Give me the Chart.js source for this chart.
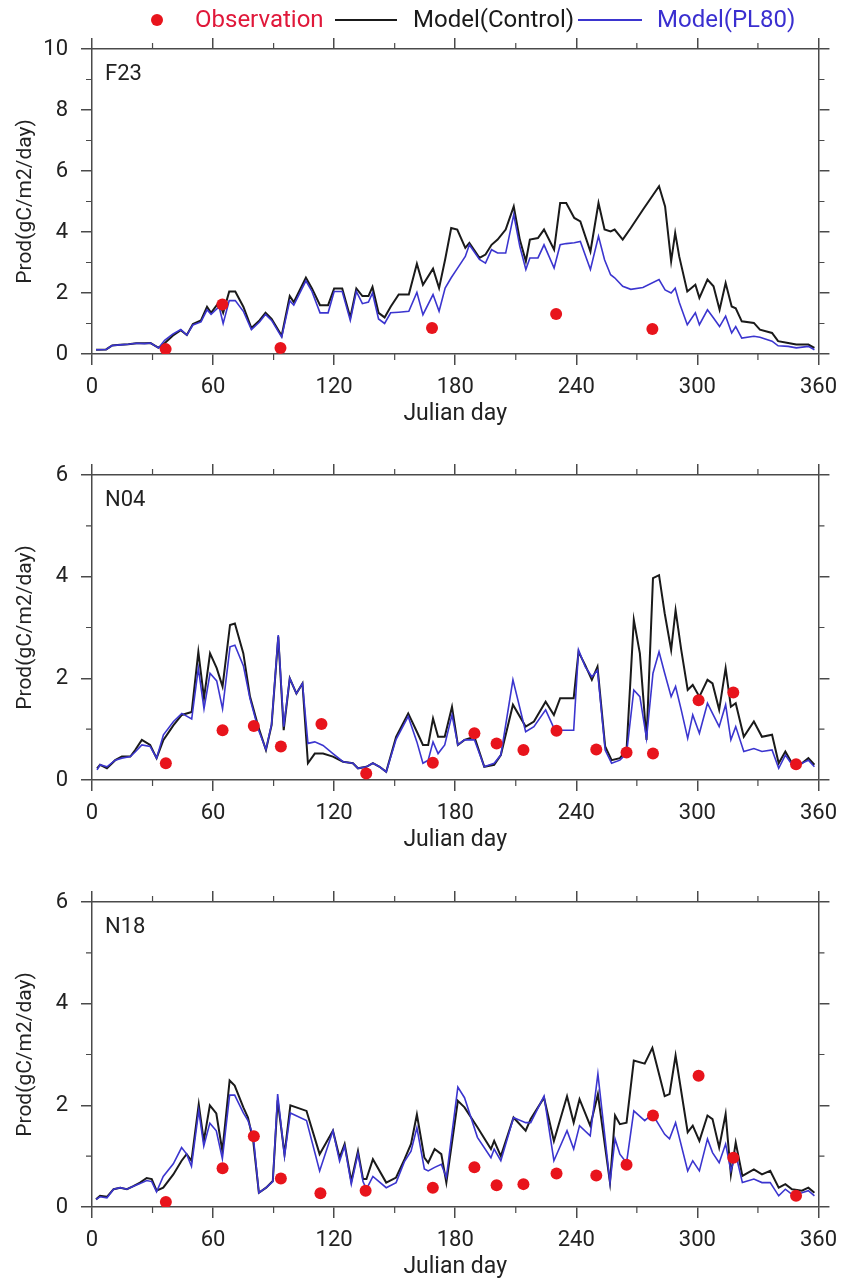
<!DOCTYPE html>
<html>
<head>
<meta charset="utf-8">
<script src="https://cdn.jsdelivr.net/npm/chart.js@4.4.1/dist/chart.umd.min.js"></script>
<style>
  body { margin: 0; background: #fff; }
  #page { position: relative; width: 846px; height: 1281px; overflow: hidden; font-family: Roboto, sans-serif; }
  canvas { position: absolute; left: 0; }
  .lg { position: absolute; font-size: 24px; line-height: 24px; white-space: nowrap; }
  .lgline { position: absolute; height: 2px; }
</style>
</head>
<body>
<div id="page">
  <canvas id="chartF23" width="846" height="428" style="top:0px"></canvas>
  <canvas id="chartN04" width="846" height="428" style="top:426px"></canvas>
  <canvas id="chartN18" width="846" height="428" style="top:853px"></canvas>

  <div id="legend">
    <div style="position:absolute;left:151px;top:14px;width:12px;height:12px;border-radius:50%;background:#e8141c"></div>
    <span class="lg" style="left:195px;top:7px;color:#e0183a">Observation</span>
    <div class="lgline" style="left:335px;top:19px;width:62px;background:#1a1a1a"></div>
    <span class="lg" style="left:413px;top:7px;color:#1a1a1a">Model(Control)</span>
    <div class="lgline" style="left:578px;top:19px;width:64px;background:#3b35cf"></div>
    <span class="lg" style="left:657px;top:7px;color:#3a2fd0">Model(PL80)</span>
  </div>
</div>

<script>
// ---- F23 ----
const f23Days = [2, 7, 10, 14, 18, 22, 26, 29, 33, 36,
    40, 44, 47, 50, 54, 57, 59, 63, 65, 68,
    71, 75, 79, 83, 86, 89, 94, 98, 100, 106,
    109, 113, 117, 120, 124, 128, 131, 134, 137, 139,
    142, 145, 148, 152, 157, 161, 164, 169, 172, 175,
    178, 181, 185, 187, 192, 195, 198, 201, 205, 209,
    212, 215, 217, 221, 224, 229, 232, 235, 239, 242,
    247, 251, 254, 257, 259, 263, 267, 273, 281, 284,
    287, 289, 291, 295, 299, 301, 305, 308, 311, 314,
    317, 319, 322, 328, 331, 337, 340, 345, 349, 355,
    358];
const f23Control = [0.14, 0.15, 0.28, 0.30, 0.32, 0.35, 0.35, 0.36, 0.20, 0.35,
    0.60, 0.78, 0.62, 0.98, 1.10, 1.55, 1.35, 1.70, 1.35, 2.05,
    2.05, 1.55, 0.85, 1.10, 1.35, 1.15, 0.60, 1.90, 1.70, 2.50,
    2.15, 1.60, 1.60, 2.15, 2.15, 1.20, 2.15, 1.90, 1.90, 2.20,
    1.35, 1.20, 1.55, 1.95, 1.95, 2.96, 2.27, 2.80, 2.16, 3.10,
    4.13, 4.08, 3.48, 3.64, 3.15, 3.26, 3.58, 3.75, 4.08, 4.84,
    3.75, 3.04, 3.75, 3.80, 4.08, 3.42, 4.95, 4.95, 4.46, 4.35,
    3.36, 4.95, 4.08, 4.02, 4.08, 3.75, 4.13, 4.73, 5.50, 4.84,
    3.04, 3.97, 3.20, 2.05, 2.27, 1.84, 2.44, 2.22, 1.45, 2.33,
    1.56, 1.50, 1.07, 1.02, 0.80, 0.69, 0.42, 0.36, 0.31, 0.31,
    0.20];
const f23PL80 = [0.14, 0.15, 0.28, 0.30, 0.32, 0.35, 0.34, 0.36, 0.20, 0.45,
    0.65, 0.80, 0.62, 0.95, 1.05, 1.45, 1.30, 1.55, 1.00, 1.75,
    1.75, 1.40, 0.80, 1.05, 1.30, 1.10, 0.55, 1.75, 1.60, 2.40,
    2.05, 1.35, 1.35, 2.05, 2.05, 1.10, 2.05, 1.65, 1.70, 2.00,
    1.15, 1.00, 1.35, 1.37, 1.40, 2.02, 1.29, 1.95, 1.40, 2.16,
    2.50, 2.80, 3.20, 3.58, 3.10, 2.98, 3.42, 3.31, 3.31, 4.57,
    3.53, 2.77, 3.15, 3.15, 3.58, 2.82, 3.58, 3.62, 3.65, 3.69,
    2.77, 3.86, 3.09, 2.60, 2.50, 2.22, 2.12, 2.18, 2.44, 2.10,
    2.00, 2.16, 1.70, 0.96, 1.35, 0.96, 1.45, 1.18, 0.90, 1.24,
    0.69, 0.90, 0.52, 0.58, 0.55, 0.42, 0.27, 0.25, 0.20, 0.25,
    0.14];
const f23ObsDays = [36.5, 64.6, 93.4, 168.5, 230, 277.7];
const f23Obs = [0.16, 1.62, 0.20, 0.85, 1.31, 0.82];

// ---- N04 ----
const n04Days = [2.5, 4, 7.4, 11.5, 14.8, 19, 21.4, 24.7, 28.8, 32,
    35.4, 40.4, 44.5, 49.4, 52.7, 55.5, 58.5, 61.8, 64.7, 68.4,
    70.8, 75, 78.3, 82.4, 86.2, 89, 92.3, 95, 98, 101.3,
    104.3, 107, 110.4, 114.5, 119.4, 124.4, 129.3, 131.8, 136, 139.2,
    142.5, 145.8, 150.7, 156.7, 161, 164, 166.6, 169, 171.5, 174.8,
    178.4, 181.3, 184.6, 189.5, 194.4, 199.3, 202.6, 208.6, 214.9, 219,
    224.8, 228.9, 232, 238.7, 241.1, 244.4, 247.7, 250.5, 254.3, 257.5,
    261.6, 264.9, 268.5, 271.5, 274.8, 278, 281, 283.8, 287, 289.2,
    292, 295.2, 297.7, 301, 305, 307.5, 310.8, 314, 316.6, 319,
    323, 328, 332, 337, 340.3, 343.6, 346.9, 351.8, 355, 358];
const n04Control = [0.23, 0.30, 0.23, 0.39, 0.46, 0.46, 0.59, 0.79, 0.69, 0.43,
    0.79, 1.08, 1.28, 1.34, 2.52, 1.61, 2.49, 2.20, 1.84, 3.05,
    3.08, 2.49, 1.64, 1.05, 0.59, 1.08, 2.82, 0.98, 2.00, 1.70,
    1.90, 0.33, 0.52, 0.52, 0.46, 0.36, 0.33, 0.23, 0.26, 0.33,
    0.26, 0.16, 0.85, 1.31, 0.95, 0.69, 0.69, 1.21, 0.85, 0.85,
    1.44, 0.69, 0.79, 0.85, 0.26, 0.30, 0.49, 1.48, 1.05, 1.15,
    1.54, 1.28, 1.61, 1.61, 2.52, 2.26, 1.97, 2.23, 0.66, 0.39,
    0.43, 0.59, 3.15, 2.49, 0.79, 3.97, 4.03, 3.28, 2.56, 3.34,
    2.56, 1.77, 1.87, 1.64, 1.97, 1.90, 1.38, 2.20, 1.44, 1.51,
    0.85, 1.15, 0.85, 0.89, 0.33, 0.56, 0.33, 0.33, 0.43, 0.30];
const n04PL80 = [0.20, 0.30, 0.26, 0.39, 0.43, 0.46, 0.55, 0.69, 0.66, 0.43,
    0.89, 1.15, 1.31, 1.20, 2.20, 1.40, 2.10, 1.95, 1.40, 2.62,
    2.65, 2.25, 1.60, 1.00, 0.60, 1.10, 2.85, 1.05, 2.00, 1.70,
    1.90, 0.72, 0.75, 0.68, 0.52, 0.36, 0.33, 0.23, 0.26, 0.33,
    0.26, 0.16, 0.80, 1.25, 0.75, 0.33, 0.39, 0.75, 0.52, 0.69,
    1.28, 0.69, 0.79, 0.79, 0.26, 0.33, 0.49, 1.97, 0.95, 1.05,
    1.38, 1.02, 0.98, 0.98, 2.56, 2.23, 2.03, 2.16, 0.59, 0.33,
    0.39, 0.52, 1.77, 1.64, 0.82, 2.10, 2.52, 2.10, 1.64, 1.84,
    1.38, 0.82, 1.28, 0.92, 1.51, 1.31, 1.05, 1.48, 0.79, 1.05,
    0.56, 0.62, 0.56, 0.59, 0.23, 0.49, 0.30, 0.33, 0.39, 0.26];
const n04ObsDays = [36.6, 64.7, 80.2, 93.6, 113.7, 135.9, 168.9, 189.5, 200.5, 213.8,
    230.2, 249.9, 264.9, 278, 300.6, 317.8, 348.9];
const n04Obs = [0.33, 0.98, 1.06, 0.66, 1.10, 0.13, 0.34, 0.92, 0.72, 0.59,
    0.97, 0.60, 0.54, 0.52, 1.57, 1.72, 0.31];

// ---- N18 ----
const n18Days = [2, 4, 7.4, 10.7, 14, 17.3, 20.5, 23.8, 27.1, 29.6,
    32, 35.3, 40.3, 44.4, 46.9, 49.3, 52.9, 55.4, 58.4, 61.6,
    64.6, 68.2, 70.7, 75, 77.3, 79.9, 82.7, 86.3, 89.6, 92,
    95.4, 98.3, 106.3, 112.8, 119.4, 122.7, 125.2, 128.5, 131.8, 134.3,
    136, 139.2, 145.8, 150.7, 154.9, 158.1, 161, 164.7, 166.6, 169.8,
    173.1, 175.6, 181.3, 184.6, 191, 197.7, 199.3, 202.6, 208.9, 214.9,
    217.4, 224, 228.9, 235.4, 238.7, 241.6, 246.9, 250.7, 256.7, 259.2,
    261.6, 264.9, 268.5, 273.9, 277.7, 283.8, 286.2, 289.2, 295.2, 297.7,
    301, 305, 307.5, 310.8, 314, 316.6, 319, 322.3, 328, 332,
    336.1, 340.3, 343.6, 346.9, 351.8, 355, 358];
const n18Control = [0.15, 0.22, 0.20, 0.35, 0.38, 0.35, 0.41, 0.48, 0.57, 0.55,
    0.32, 0.38, 0.64, 0.91, 1.04, 0.91, 2.02, 1.30, 2.00, 1.84,
    1.10, 2.49, 2.39, 1.96, 1.76, 1.30, 0.28, 0.38, 0.51, 2.10,
    1.04, 2.00, 1.89, 1.04, 1.50, 0.97, 1.24, 0.51, 1.10, 0.55,
    0.55, 0.94, 0.48, 0.58, 0.94, 1.24, 1.82, 0.97, 0.87, 1.14,
    1.04, 0.48, 2.09, 1.96, 1.57, 1.14, 1.30, 1.00, 1.76, 1.50,
    1.73, 2.15, 1.30, 2.18, 1.66, 2.12, 1.60, 2.22, 0.48, 1.80,
    1.63, 1.66, 2.88, 2.82, 3.13, 2.18, 2.22, 2.98, 1.47, 1.60,
    1.30, 1.80, 1.73, 1.17, 1.83, 0.64, 1.27, 0.61, 0.74, 0.64,
    0.71, 0.38, 0.45, 0.35, 0.32, 0.38, 0.28];
const n18PL80 = [0.15, 0.20, 0.18, 0.35, 0.38, 0.35, 0.41, 0.46, 0.52, 0.50,
    0.30, 0.60, 0.85, 1.17, 1.04, 0.80, 1.90, 1.20, 1.65, 1.50,
    0.95, 2.20, 2.20, 1.85, 1.70, 1.40, 0.28, 0.38, 0.50, 2.22,
    1.00, 1.85, 1.70, 0.71, 1.50, 0.90, 1.20, 0.45, 1.05, 0.50,
    0.35, 0.60, 0.38, 0.48, 0.90, 1.10, 1.56, 0.75, 0.71, 0.78,
    0.84, 0.58, 2.36, 2.15, 1.37, 0.97, 1.14, 0.91, 1.76, 1.66,
    1.66, 2.18, 0.91, 1.50, 1.14, 1.60, 1.40, 2.62, 0.48, 1.34,
    1.04, 0.87, 1.89, 1.70, 1.83, 1.43, 1.34, 1.66, 0.71, 0.91,
    0.71, 1.34, 1.07, 0.87, 1.24, 0.71, 1.04, 0.48, 0.55, 0.48,
    0.48, 0.22, 0.35, 0.25, 0.28, 0.32, 0.22];
const n18ObsDays = [36.6, 64.7, 80.2, 93.6, 113.2, 135.6, 168.9, 189.5, 200.5, 213.8,
    230.2, 249.9, 264.9, 278, 300.6, 317.8, 348.9];
const n18Obs = [0.10, 0.76, 1.39, 0.56, 0.27, 0.32, 0.38, 0.78, 0.43, 0.45,
    0.66, 0.62, 0.83, 1.80, 2.58, 0.97, 0.22];

const xTicks = [0, 60, 120, 180, 240, 300, 360];

const axisColor = '#4a4a4a';
const textColor = '#222';
const obsColor = '#e8141c';
const controlColor = '#1a1a1a';
const pl80Color = '#3b35cf';

// short minor ticks (every 30 days, every 1 unit) on all four sides
const minorTicks = {
    id: 'minorTicks',
    afterDraw(chart) {
        let ctx = chart.ctx;
        let area = chart.chartArea;
        let xs = chart.scales.x;
        let ys = chart.scales.y;
        ctx.save();
        ctx.strokeStyle = axisColor;
        ctx.lineWidth = 1.2;
        ctx.beginPath();
        for (let d = 30; d < 360; d += 60) {
            let px = xs.getPixelForValue(d);
            ctx.moveTo(px, area.bottom);
            ctx.lineTo(px, area.bottom + 6);
            ctx.moveTo(px, area.top);
            ctx.lineTo(px, area.top - 6);
        }
        for (let v = 1; v < ys.max; v += 2) {
            let py = ys.getPixelForValue(v);
            ctx.moveTo(area.left, py);
            ctx.lineTo(area.left - 6, py);
            ctx.moveTo(area.right, py);
            ctx.lineTo(area.right + 6, py);
        }
        ctx.stroke();
        ctx.restore();
    }
};

const panelLabel = {
    id: 'panelLabel',
    afterDraw(chart, args, opts) {
        let ctx = chart.ctx;
        let area = chart.chartArea;
        ctx.save();
        ctx.font = '22px Roboto';
        ctx.fillStyle = textColor;
        ctx.textBaseline = 'middle';
        ctx.textAlign = 'left';
        ctx.fillText(opts.text, area.left + 13, area.top + 25);
        ctx.restore();
    }
};

function toPoints(xs, ys) {
    return xs.map((x, i) => ({x: x, y: ys[i]}));
}

function frameAxis(position, yMax, isX, extra) {
    let axis = {
        type: 'linear',
        position: position,
        min: 0,
        max: isX ? 360 : yMax,
        border: {display: true, color: axisColor, width: 1.5},
        grid: {drawOnChartArea: false, drawTicks: true, tickLength: 11, color: axisColor, lineWidth: 1.5},
        ticks: {display: false, stepSize: isX ? 60 : 2}
    };
    return Object.assign(axis, extra);
}

function makePanel(canvasId, name, yMax, days, control, pl80, obsDays, obs) {
    let ctx = document.getElementById(canvasId).getContext('2d');
    return new Chart(ctx, {
        type: 'line',
        data: {
            datasets: [
                {
                    label: 'Observation',
                    data: toPoints(obsDays, obs),
                    showLine: false,
                    pointRadius: 6,
                    pointBackgroundColor: obsColor,
                    pointBorderWidth: 0,
                    xAxisID: 'x',
                    yAxisID: 'y'
                },
                {
                    label: 'Model(PL80)',
                    data: toPoints(days, pl80),
                    borderColor: pl80Color,
                    borderWidth: 1.6,
                    pointRadius: 0,
                    tension: 0,
                    xAxisID: 'x',
                    yAxisID: 'y'
                },
                {
                    label: 'Model(Control)',
                    data: toPoints(days, control),
                    borderColor: controlColor,
                    borderWidth: 2,
                    pointRadius: 0,
                    tension: 0,
                    xAxisID: 'x',
                    yAxisID: 'y'
                }
            ]
        },
        options: {
            responsive: false,
            animation: false,
            devicePixelRatio: 1,
            layout: {padding: 0},
            plugins: {
                legend: {display: false},
                tooltip: {enabled: false},
                panelLabel: {text: name}
            },
            scales: {
                x: frameAxis('bottom', yMax, true, {
                    ticks: {
                        display: true,
                        autoSkip: false,
                        maxRotation: 0,
                        padding: 9,
                        color: textColor,
                        font: {family: 'Roboto', size: 22}
                    },
                    afterBuildTicks: s => { s.ticks = xTicks.map(v => ({value: v})); },
                    title: {
                        display: true,
                        text: 'Julian day',
                        color: textColor,
                        font: {family: 'Roboto', size: 23},
                        padding: {top: 0, bottom: 0}
                    },
                    afterFit: s => { s.height = 74; }
                }),
                xTop: frameAxis('top', yMax, true, {
                    afterBuildTicks: s => { s.ticks = xTicks.map(v => ({value: v})); },
                    afterFit: s => { s.height = 49; }
                }),
                y: frameAxis('left', yMax, false, {
                    ticks: {
                        display: true,
                        stepSize: 2,
                        padding: 13,
                        color: textColor,
                        font: {family: 'Roboto', size: 22}
                    },
                    title: {
                        display: true,
                        text: 'Prod(gC/m2/day)',
                        color: textColor,
                        font: {family: 'Roboto', size: 21},
                        padding: {top: 13, bottom: 0}
                    },
                    afterFit: s => { s.width = 92; }
                }),
                y2: frameAxis('right', yMax, false, {
                    afterFit: s => { s.width = 24; }
                })
            }
        },
        plugins: [minorTicks, panelLabel]
    });
}

makePanel('chartF23', 'F23', 10, f23Days, f23Control, f23PL80, f23ObsDays, f23Obs);
makePanel('chartN04', 'N04', 6, n04Days, n04Control, n04PL80, n04ObsDays, n04Obs);
makePanel('chartN18', 'N18', 6, n18Days, n18Control, n18PL80, n18ObsDays, n18Obs);
</script>
</body>
</html>
